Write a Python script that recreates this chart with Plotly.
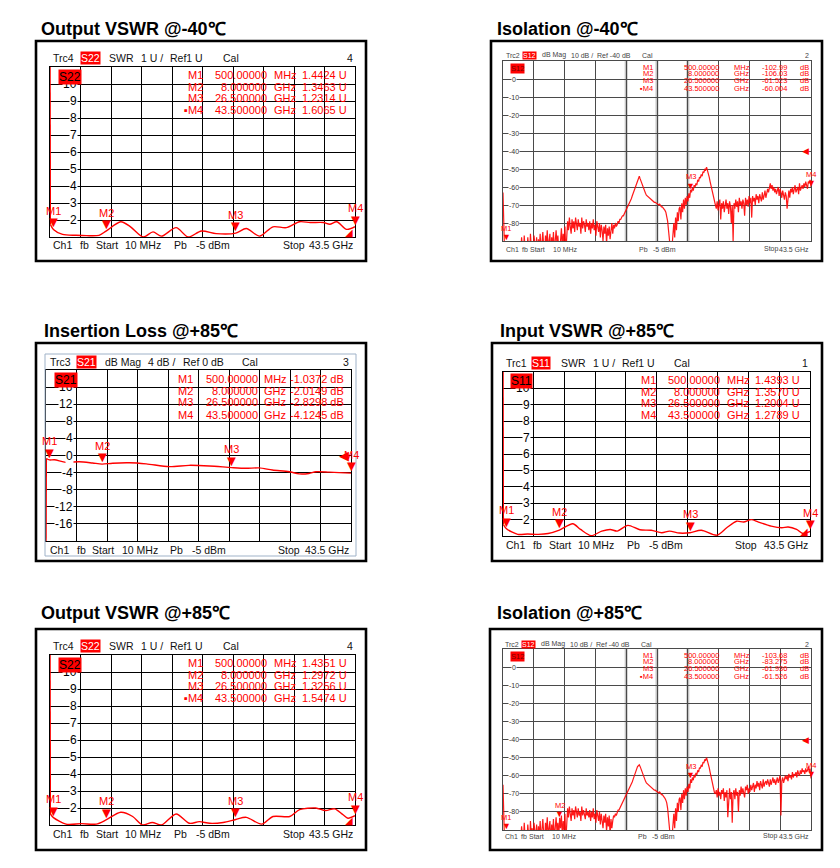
import numpy as np
import plotly.graph_objects as go

W, H = 840, 868
F_START, F_STOP = 0.01, 43.5          # GHz, sweep of every screen
MARKER_FREQS = [0.5, 8.0, 26.5, 43.5]  # GHz
MARKER_FREQ_TEXT = ["500.00000", "8.000000", "26.500000", "43.500000"]
MARKER_FREQ_UNIT = ["MHz", "GHz", "GHz", "GHz"]

titles = ["Output VSWR @-40℃", "Isolation @-40℃", "Insertion Loss @+85℃",
          "Input VSWR @+85℃", "Output VSWR @+85℃", "Isolation @+85℃"]

# ---------- Output VSWR @-40C (S22) ----------
s22_cold_freq = [0.01, 0.06, 0.5, 1.8, 3.7, 5.2, 7.0, 8.0, 10.1, 11.5, 13.3, 14.7, 15.9, 18.0, 19.7,
                 21.6, 23.7, 26.5, 28.0, 29.9, 31.8, 33.7, 35.6, 37.1, 39.0, 39.9, 40.9, 42.3, 43.5]
s22_cold_swr = [12.0, 1.75, 1.4424, 1.15, 1.1, 1.08, 1.1, 1.3463, 1.9, 1.6, 1.0, 1.3, 1.05, 1.55, 1.0,
                1.35, 1.2, 1.2314, 1.5, 1.05, 1.6, 1.55, 1.9, 1.85, 1.85, 1.75, 1.9, 1.45, 1.6065]
s22_cold_markers = [1.4424, 1.3463, 1.2314, 1.6065]
s22_cold_marker_text = ["1.4424 U", "1.3463 U", "1.2314 U", "1.6065 U"]

# ---------- Isolation @-40C (S12), dB, 349-point sweep ----------
s12_cold_db = [
    -63, -97, -101, -99, -103, -100, -96, -102, -98, -101, -97, -100, -95, -99, -102, -96, -100, -94, -97, -92,
    -97, -88, -94, -99, -87, -95, -91, -98, -88, -93, -100, -86, -94, -90, -97, -87, -92, -96, -88, -99,
    -89, -94, -86, -97, -91, -85, -93, -98, -87, -92, -84, -95, -90, -86, -99, -88, -93, -85, -96, -89,
    -84, -92, -87, -95, -106, -90, -83, -94, -86, -91, -82, -97, -88, -79, -84, -77, -82, -86, -78, -83,
    -79, -85, -77, -81, -84, -78, -82, -80, -86, -77, -83, -79, -81, -85, -78, -82, -80, -84, -79, -86,
    -80, -83, -78, -84, -81, -87, -79, -82, -85, -80, -88, -81, -84, -90, -82, -86, -81, -92, -83, -87,
    -82, -89, -84, -80, -86, -81, -83, -80, -82, -81, -79, -80, -78, -78, -77, -76, -76, -75, -74, -73,
    -72, -71, -70, -69, -68, -66.5, -65, -63.5, -62, -60.5, -59, -57.5, -56, -55, -54, -55.5, -57, -58.5, -60, -61.5,
    -62.5, -63.5, -64.5, -65, -65.5, -66, -66.5, -67, -67.5, -67.5, -68, -68.5, -68.5, -69, -69, -69.5, -70, -69.5, -70.5, -71,
    -71, -71.5, -72, -73, -74, -76, -79, -84, -90, -97, -99, -93, -86, -80, -88, -77, -84, -74, -79, -72,
    -71, -78, -69, -74, -67, -72, -66, -70, -65, -68, -63.5, -66, -61.5, -63, -60.5, -62, -59, -60, -58, -59,
    -56, -57, -54.5, -55, -53, -54, -51.5, -52, -50, -50.5, -49, -50.5, -52.5, -54.5, -57, -59.5, -62, -64.5, -67, -69,
    -70, -72, -68, -73, -70, -67, -78, -69, -72, -68, -74, -70, -67, -72, -69, -75, -68, -71, -80, -70,
    -90, -69, -72, -67, -71, -68, -74, -66, -70, -68, -72, -67, -69, -76, -66, -70, -67, -71, -65, -69,
    -66, -77, -65, -68, -66, -70, -64, -67, -65, -69, -64, -66, -68, -63, -67, -65, -62, -66, -64, -61,
    -63, -60, -58, -61, -59, -62, -60, -63, -61, -64, -62, -60, -65, -61, -63, -66, -62, -64, -67, -63,
    -65, -72, -64, -62, -66, -61, -63, -60, -64, -62, -59, -63, -61, -60, -64, -58, -62, -60, -59, -61,
    -58, -60, -57, -59, -61, -57, -58, -56, -60]
s12_cold_markers = [-102.99, -106.03, -61.523, -60.004]
s12_cold_marker_text = ["-102.99", "-106.03", "-61.523", "-60.004"]

# ---------- Insertion Loss @+85C (S21), dB ----------
s21_hot_freq = [0.01, 0.06, 0.5, 1.2, 2.85, 4.75, 6.65, 8.0, 9.5, 11.9, 14.3, 17.6, 20.4, 23.3, 26.5,
                28.5, 30.4, 32.3, 34.7, 36.1, 37.5, 38.5, 40.4, 41.8, 43.5]
s21_hot_db = [-21, -0.7, -1.0372, -1.0, -1.6, -1.45, -1.75, -2.0149, -1.8, -1.7, -1.95, -2.6, -2.3, -2.45, -2.8298,
              -3.0, -2.9, -3.4, -3.8, -4.3, -4.2, -3.8, -3.9, -4.0, -4.1245]
s21_hot_markers = [-1.0372, -2.0149, -2.8298, -4.1245]
s21_hot_marker_text = ["-1.0372 dB", "-2.0149 dB", "-2.8298 dB", "-4.1245 dB"]

# ---------- Input VSWR @+85C (S11) ----------
s11_hot_freq = [0.01, 0.06, 0.5, 2.1, 3.5, 5.0, 6.4, 8.0, 9.9, 11.0, 12.5, 14.0, 15.2, 16.2, 17.7, 19.4, 21.0,
                22.5, 23.6, 25.0, 26.5, 28.1, 30.3, 31.7, 33.1, 34.1, 35.2, 36.2, 38.0, 39.5, 40.4, 41.6, 42.5, 43.5]
s11_hot_swr = [12.0, 1.7, 1.4393, 1.1, 1.12, 1.1, 1.15, 1.357, 1.75, 1.4, 1.02, 1.3, 1.4, 1.3, 1.65, 1.38, 1.35,
               1.2, 1.3, 1.18, 1.2004, 1.35, 1.05, 1.5, 1.9, 1.85, 2.0, 1.85, 1.6, 1.5, 1.55, 1.4, 1.15, 1.2789]
s11_hot_markers = [1.4393, 1.3570, 1.2004, 1.2789]
s11_hot_marker_text = ["1.4393 U", "1.3570 U", "1.2004 U", "1.2789 U"]

# ---------- Output VSWR @+85C (S22) ----------
s22_hot_freq = [0.01, 0.06, 0.5, 2.3, 4.5, 6.6, 8.0, 10.1, 11.8, 13.2, 14.6, 15.9, 18.0, 19.9, 21.3,
                22.8, 24.7, 26.5, 28.0, 30.2, 31.8, 34.2, 35.6, 37.9, 39.3, 40.6, 41.8, 42.5, 43.5]
s22_hot_swr = [12.0, 1.65, 1.4351, 1.05, 1.08, 1.05, 1.2972, 1.75, 1.5, 1.0, 1.15, 1.0, 1.65, 1.1, 1.2,
               1.1, 1.15, 1.3256, 1.45, 1.05, 1.5, 1.5, 1.9, 2.0, 1.85, 1.95, 1.6, 1.4, 1.5474]
s22_hot_markers = [1.4351, 1.2972, 1.3256, 1.5474]
s22_hot_marker_text = ["1.4351 U", "1.2972 U", "1.3256 U", "1.5474 U"]

# ---------- Isolation @+85C (S12), dB, 349-point sweep ----------
s12_hot_db = [
    -65, -97, -102, -98, -104, -99, -96, -101, -97, -100, -95, -99, -94, -98, -101, -95, -99, -93, -96, -91,
    -96, -88, -93, -98, -86, -94, -90, -97, -87, -92, -99, -85, -93, -89, -96, -86, -91, -95, -87, -98,
    -88, -93, -85, -96, -90, -84, -92, -97, -86, -91, -83, -94, -89, -85, -98, -87, -92, -84, -95, -88,
    -83, -91, -86, -94, -83.3, -89, -82, -93, -85, -90, -81, -96, -87, -78, -83, -77, -81, -85, -78, -82,
    -79, -84, -77, -81, -83, -78, -82, -80, -85, -77, -82, -79, -81, -84, -78, -82, -80, -83, -79, -85,
    -80, -83, -78, -84, -81, -86, -79, -82, -85, -80, -87, -81, -84, -89, -82, -86, -81, -91, -83, -88,
    -82, -93, -84, -89, -85, -82, -83, -81, -82, -80, -79, -79, -78, -77, -76, -75, -74, -73, -72, -71,
    -70, -69, -68, -67, -66, -65, -63.5, -62, -60.5, -59, -57.5, -56, -55, -54.5, -54, -55, -56.5, -58, -59.5, -61,
    -62, -63, -64, -64.5, -65, -65.5, -66, -66.5, -67, -67, -67.5, -68, -68, -68.5, -68.5, -69, -69.5, -69, -70, -70.5,
    -70.5, -71, -71.5, -72.5, -73.5, -75, -78, -83, -90, -97, -99, -94, -87, -81, -89, -78, -85, -75, -80, -73,
    -72, -79, -70, -75, -68, -73, -67, -71, -66, -69, -64.5, -67, -62, -64, -61, -62.5, -59.5, -61, -58.5, -59.5,
    -57, -58, -55.5, -56, -54, -55, -52.5, -53, -51, -51.5, -50, -51.5, -53.5, -55.5, -58, -60.5, -63, -65.5, -68, -69.5,
    -70, -68, -72, -67, -71, -69, -73, -68, -70, -67, -74, -69, -72, -68, -83, -70, -67, -73, -69, -86,
    -70, -68, -73, -67, -71, -69, -80, -68, -71, -66, -70, -67, -69, -72, -66, -68, -65, -70, -67, -69,
    -65, -68, -66, -64, -69, -65, -67, -63, -66, -64, -68, -63, -65, -67, -62, -66, -64, -63, -65, -62,
    -64, -66, -62, -65, -63, -61, -64, -62, -65, -63, -61, -64, -62, -60, -82, -63, -61, -64, -62, -60,
    -62, -60, -63, -59, -61, -60, -62, -58, -61, -59, -60, -58, -61, -57, -59, -60, -57, -59, -56, -58,
    -57, -59, -56, -58, -57, -55, -58, -56, -61.5]
s12_hot_markers = [-103.68, -83.275, -61.936, -61.526]
s12_hot_marker_text = ["-103.68", "-83.275", "-61.936", "-61.526"]

# ======================================================================
FONT = "Liberation Sans, Arial, sans-serif"
RED = "#ff0000"

def px_x(p):
    return p / W

def px_y(p):
    return 1 - p / H

SWR_FOOT = [("Ch1", 15), ("fb", 42), ("Start", 58), ("10 MHz", 87), ("Pb", 136), ("-5 dBm", 158), ("Stop", 245)]
ISO_HEAD = [("dB Mag", 49), ("10 dB /", 78), ("Ref -40 dB", 104), ("Cal", 149)]
ISO_FOOT = [("Ch1", 13), ("fb", 29), ("Start", 37), ("10 MHz", 60), ("Pb", 146), ("-5 dBm", 160), ("Stop", 271)]

panels = [
    dict(kind="swr", box=(28, 33, 358, 253), plot=(42, 59, 347, 229), title_xy=(31, 21), head_y=50, foot_y=237,
         trc=("Trc4", 15), par=("S22", 44), chan="4",
         head=[("SWR", 71), ("1 U /", 103), ("Ref1 U", 132), ("Cal", 185)],
         foot=SWR_FOOT, freq=s22_cold_freq, vals=s22_cold_swr,
         mk=s22_cold_markers, mtext=s22_cold_marker_text, dot4=True, show=[0, 1, 2, 3], lab=(8, 10)),
    dict(kind="iso", box=(483, 33, 814, 253), plot=(495, 53, 803, 233), title_xy=(487, 21), head_y=47, foot_y=241,
         trc=("Trc2", 13), par=("S12", 31), chan="2", head=ISO_HEAD, foot=ISO_FOOT,
         freq=None, vals=s12_cold_db, mk=s12_cold_markers, mtext=s12_cold_marker_text, dot4=True,
         show=[0, 2, 3], lab=(7, 7)),
    dict(kind="il", box=(28, 335, 358, 553), plot=(38, 362, 343, 533), title_xy=(34, 323), head_y=354, foot_y=542,
         trc=("Trc3", 12), par=("S21", 40), chan="3",
         head=[("dB Mag", 67), ("4 dB /", 110), ("Ref 0 dB", 145), ("Cal", 204)],
         foot=[("Ch1", 12), ("fb", 39), ("Start", 54), ("10 MHz", 84), ("Pb", 132), ("-5 dBm", 154), ("Stop", 240)],
         freq=s21_hot_freq, vals=s21_hot_db, mk=s21_hot_markers, mtext=s21_hot_marker_text, dot4=False,
         show=[0, 1, 2, 3], lab=(8, 10), inner=(37, 346, 348, 548)),
    dict(kind="swr", box=(484, 335, 814, 553), plot=(495, 364, 802, 528), title_xy=(490, 323), head_y=355, foot_y=537,
         trc=("Trc1", 12), par=("S11", 39), chan="1",
         head=[("SWR", 67), ("1 U /", 99), ("Ref1 U", 128), ("Cal", 180)],
         foot=[("Ch1", 12), ("fb", 39), ("Start", 55), ("10 MHz", 84), ("Pb", 133), ("-5 dBm", 155), ("Stop", 241)],
         freq=s11_hot_freq, vals=s11_hot_swr, mk=s11_hot_markers, mtext=s11_hot_marker_text, dot4=False,
         show=[0, 1, 2, 3], lab=(7, 9)),
    dict(kind="swr", box=(28, 621, 358, 842), plot=(42, 647, 347, 817), title_xy=(31, 605), head_y=638, foot_y=826,
         trc=("Trc4", 15), par=("S22", 44), chan="4",
         head=[("SWR", 71), ("1 U /", 103), ("Ref1 U", 132), ("Cal", 185)],
         foot=SWR_FOOT, freq=s22_hot_freq, vals=s22_hot_swr,
         mk=s22_hot_markers, mtext=s22_hot_marker_text, dot4=True, show=[0, 1, 2, 3], lab=(8, 10)),
    dict(kind="iso", box=(482, 621, 814, 842), plot=(495, 641, 803, 822), title_xy=(487, 605), head_y=636, foot_y=828,
         trc=("Trc2", 13), par=("S12", 31), chan="2", head=ISO_HEAD, foot=ISO_FOOT,
         freq=None, vals=s12_hot_db, mk=s12_hot_markers, mtext=s12_hot_marker_text, dot4=True,
         show=[0, 1, 2, 3], lab=(7, 7)),
]

KIND = {
    "swr": dict(yr=[1, 11], dtick=1, ticks=list(range(2, 11)), ref=1, grid="#000000", gw=1.2,
                fs=10.5, tfs=12, hcol="#111111", tri=15, mfs=11,
                table=dict(name=155, freq=219, unit=222, val=299, rows=[8, 19.7, 31.3, 43])),
    "il": dict(yr=[-20, 20], dtick=4, ticks=list(range(-16, 17, 4)), ref=0, grid="#000000", gw=1.2,
               fs=10.5, tfs=12, hcol="#111111", tri=15, mfs=11,
               table=dict(name=149, freq=214, unit=216, val=300, rows=[8.7, 20.7, 32, 44.7])),
    "iso": dict(yr=[-90, 10], dtick=10, ticks=list(range(0, -81, -10)), ref=-40, grid="#4a4a4a", gw=0.8,
                fs=7, tfs=7, hcol="#444444", tri=9, mfs=7.5,
                table=dict(name=152, freq=218, unit=229, val=286, db=295, rows=[6.3, 12.7, 19.7, 27])),
}

fig = go.Figure()
annotations = []
shapes = []

def ann(text, x, y, size, color="black", xanchor="left", yanchor="middle",
        xref="paper", yref="paper", bg=None, **kw):
    d = dict(text=text, x=x, y=y, xref=xref, yref=yref, showarrow=False,
             xanchor=xanchor, yanchor=yanchor,
             font=dict(family=FONT, size=size, color=color))
    if bg is not None:
        d.update(bgcolor=bg, borderpad=0)
    d.update(kw)
    annotations.append(d)

layout_axes = {}
for i, p in enumerate(panels, start=1):
    k = KIND[p["kind"]]
    xa = "xaxis" if i == 1 else f"xaxis{i}"
    ya = "yaxis" if i == 1 else f"yaxis{i}"
    xr = "x" if i == 1 else f"x{i}"
    yr = "y" if i == 1 else f"y{i}"
    L, T, R, B = p["plot"]
    step = (F_STOP - F_START) / 10
    layout_axes[xa] = dict(domain=[px_x(L), px_x(R)], range=[F_START, F_STOP], anchor=yr,
                           tick0=F_START, dtick=step, showticklabels=False, ticks="",
                           showgrid=True, gridcolor=k["grid"], gridwidth=k["gw"], zeroline=False,
                           showline=True, mirror=True, linecolor=k["grid"], linewidth=1)
    layout_axes[ya] = dict(domain=[px_y(B), px_y(T)], range=k["yr"], anchor=xr,
                           tick0=k["yr"][0], dtick=k["dtick"], showticklabels=False, ticks="",
                           showgrid=True, gridcolor=k["grid"], gridwidth=k["gw"], zeroline=False,
                           showline=True, mirror=True, linecolor=k["grid"], linewidth=1)

    # frame of the screenshot
    bx0, by0, bx1, by1 = p["box"]
    shapes.append(dict(type="rect", xref="paper", yref="paper", x0=px_x(bx0), x1=px_x(bx1),
                       y0=px_y(by1), y1=px_y(by0), line=dict(color="black", width=2.6),
                       fillcolor="rgba(0,0,0,0)"))
    if "inner" in p:
        ix0, iy0, ix1, iy1 = p["inner"]
        shapes.append(dict(type="rect", xref="paper", yref="paper", x0=px_x(ix0), x1=px_x(ix1),
                           y0=px_y(iy1), y1=px_y(iy0), line=dict(color="#9fb2c8", width=1),
                           fillcolor="rgba(0,0,0,0)"))

    # light grey (thick) middle grid columns on the isolation screens
    if p["kind"] == "iso":
        for c in (4, 5, 6):
            shapes.append(dict(type="line", xref=xr, yref="paper", x0=F_START + c * step,
                               x1=F_START + c * step, y0=px_y(B), y1=px_y(T), layer="below",
                               line=dict(color="#c4c4c4", width=3)))

    # traces
    if p["kind"] == "iso":
        freq = np.linspace(F_START, F_STOP, len(p["vals"]))
        fig.add_trace(go.Scatter(x=freq, y=p["vals"], mode="lines", xaxis=xr, yaxis=yr,
                                 line=dict(color="rgba(255,0,0,0.9)", width=1.2), showlegend=False,
                                 hoverinfo="skip"))
    else:
        fig.add_trace(go.Scatter(x=p["freq"][:2], y=p["vals"][:2], mode="lines", xaxis=xr, yaxis=yr,
                                 line=dict(color=RED, width=1.4), showlegend=False, hoverinfo="skip"))
        fig.add_trace(go.Scatter(x=p["freq"][1:], y=p["vals"][1:], mode="lines", xaxis=xr, yaxis=yr,
                                 line=dict(color=RED, width=1.4, shape="spline", smoothing=0.8),
                                 showlegend=False, hoverinfo="skip"))

    # title
    tx, ty = p["title_xy"]
    ann("<b>" + titles[i - 1] + "</b>", px_x(tx), px_y(ty), 18, "black")

    # header
    hy = px_y(p["head_y"])
    ann(p["trc"][0], px_x(bx0 + p["trc"][1]), hy, k["fs"], k["hcol"])
    ann(p["par"][0], px_x(bx0 + p["par"][1]), hy, k["fs"], "white", bg=RED)
    for txt, dx in p["head"]:
        ann(txt, px_x(bx0 + dx), hy, k["fs"], k["hcol"])
    ann(p["chan"], px_x(R), hy, k["fs"], k["hcol"], xanchor="right")

    # footer
    fy = px_y(p["foot_y"])
    for txt, dx in p["foot"]:
        ann(txt, px_x(bx0 + dx), fy, k["fs"], k["hcol"])
    ann("43.5 GHz", px_x(R), fy, k["fs"], k["hcol"], xanchor="right")

    # y tick labels drawn inside the first column
    for v in k["ticks"]:
        lbl = str(v)
        if p["kind"] == "iso":
            ann(lbl, 0.036, v, k["tfs"], "#333333", xanchor="center", xref=f"{xr} domain", yref=yr,
                bg="white")
        else:
            ann(lbl, 0.1, v, k["tfs"], "black", xanchor="right", xref=f"{xr} domain", yref=yr,
                bg="white", xshift=-3)

    # trace label box (S22 etc.) at the top-left of the grid
    lx, ly = p["lab"]
    if p["kind"] == "iso":
        ann(p["par"][0], px_x(L + lx), px_y(T + ly), 7.5, "#7a0000", bg=RED)
    else:
        ann(p["par"][0], px_x(L + lx), px_y(T + ly), 12, "black", bg=RED)

    # reference level indicator on the right edge
    if p["kind"] == "swr":
        ann("◢", F_STOP, k["ref"], 10, RED, xanchor="right", yanchor="bottom", xref=xr, yref=yr, yshift=-3)
    elif p["kind"] == "il":
        ann("◀", F_STOP, k["ref"], 13, RED, xanchor="right", yanchor="middle", xref=xr, yref=yr)
    else:
        ann("◀", F_STOP, k["ref"], 9, RED, xanchor="right", yanchor="middle", xref=xr, yref=yr)

    # marker table
    tb = k["table"]
    for j in range(4):
        yy = px_y(T + tb["rows"][j])
        name = ("▪M%d" % (j + 1)) if (j == 3 and p["dot4"]) else "M%d" % (j + 1)
        ann(name, px_x(L + tb["name"]), yy, k["mfs"], RED, xanchor="right")
        ann(MARKER_FREQ_TEXT[j], px_x(L + tb["freq"]), yy, k["mfs"], RED, xanchor="right")
        ann(MARKER_FREQ_UNIT[j], px_x(L + tb["unit"]), yy, k["mfs"], RED)
        ann(p["mtext"][j], px_x(L + tb["val"]), yy, k["mfs"], RED, xanchor="right")
        if p["kind"] == "iso":
            ann("dB", px_x(L + tb["db"]), yy, k["mfs"], RED)

    # marker triangles with labels
    lo, hi = k["yr"]
    for j in p["show"]:
        mv = min(max(p["mk"][j], lo), hi)
        ann("▼", MARKER_FREQS[j], mv, k["tri"], RED, xanchor="center", yanchor="bottom",
            xref=xr, yref=yr, yshift=-3)
        ann("M%d" % (j + 1), MARKER_FREQS[j], mv, k["mfs"], RED, xanchor="center", yanchor="bottom",
            xref=xr, yref=yr, yshift=k["tri"] * 0.7)

fig.update_layout(width=W, height=H, autosize=False, margin=dict(l=0, r=0, t=0, b=0),
                  paper_bgcolor="white", plot_bgcolor="white", showlegend=False,
                  annotations=annotations, shapes=shapes, font=dict(family=FONT), **layout_axes)

fig.write_html("out.html")
